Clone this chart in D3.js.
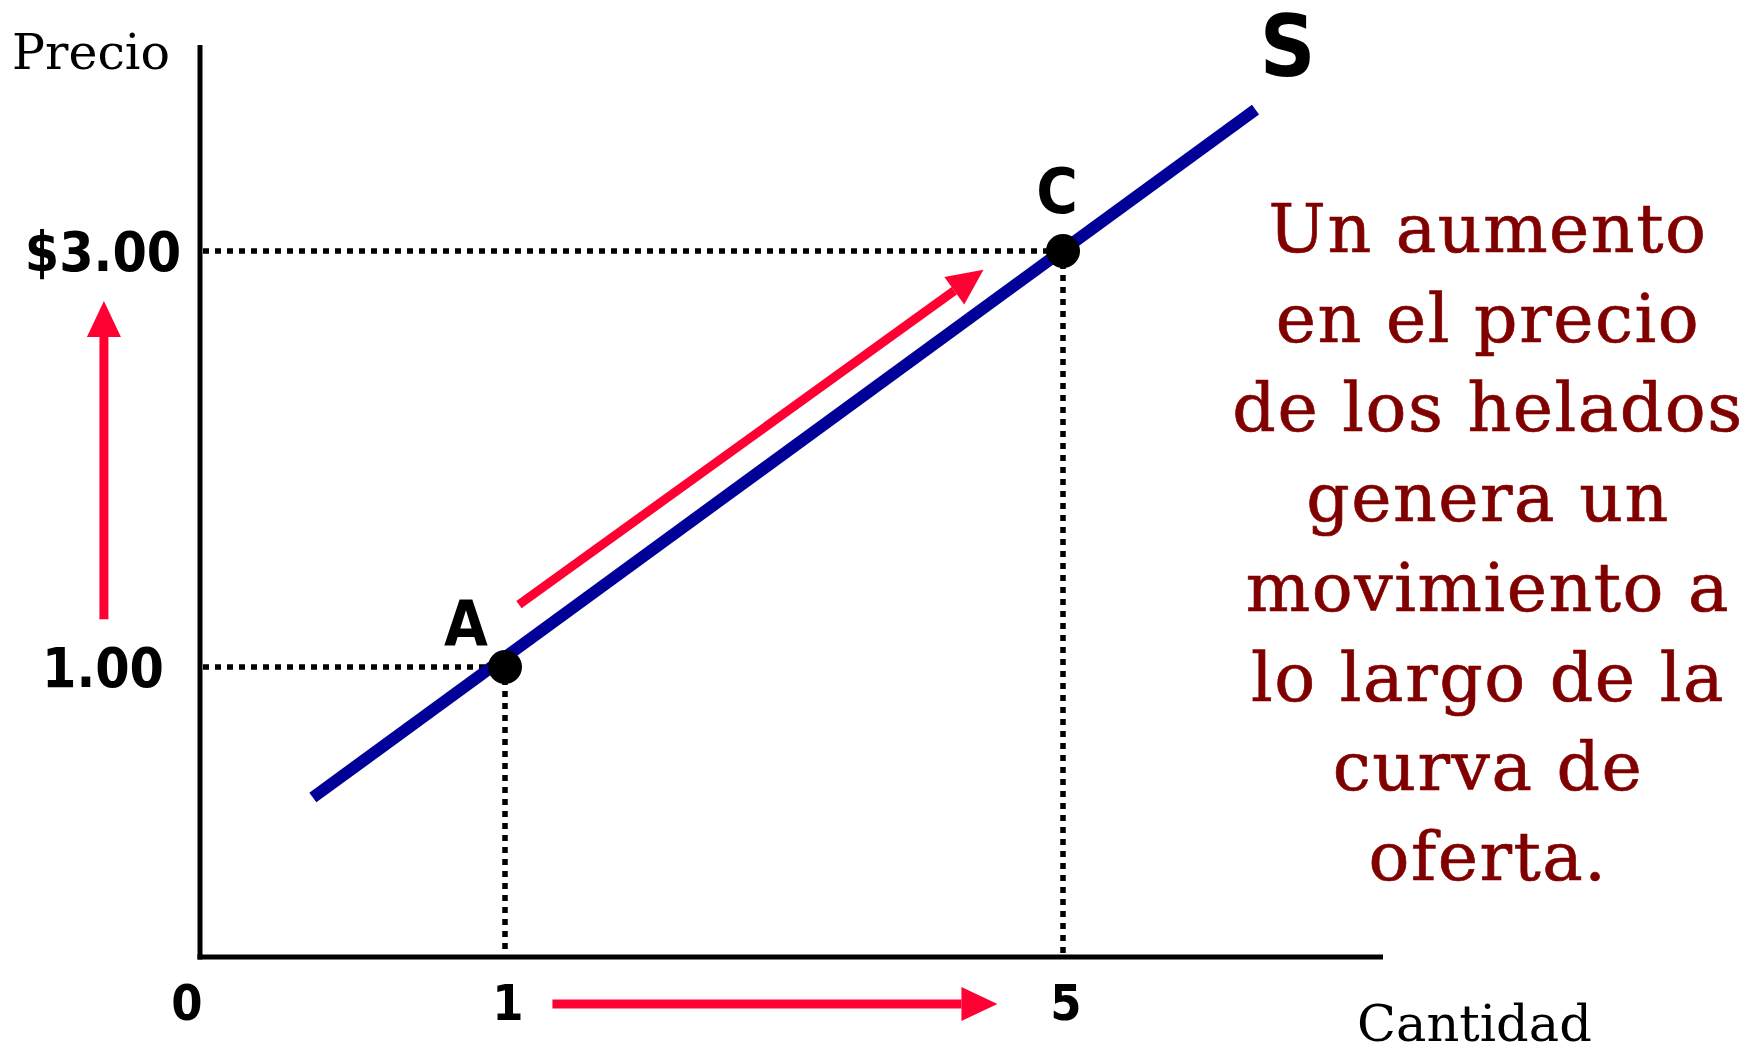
<!DOCTYPE html>
<html>
<head>
  <meta charset="utf-8">
  <style>
  body { margin: 0; background: #fff; }
  #chart svg { display: block; }
  .bold { font-family: "DejaVu Sans", sans-serif; font-weight: bold; font-stretch: condensed; }
  .serif { font-family: "DejaVu Serif", serif; }
  </style>
</head>
<body>
  <script src="https://d3js.org/d3.v7.min.js"></script>
  <div id="chart"></div>
  <script>
    // datos del grafico
    const qtyTicks = [0, 1, 5];
    const priceTicks = [1, 3];
    const priceLabels = ['1.00', '$3.00'];
    const points = [
      {name: 'A', q: 1, p: 1},
      {name: 'C', q: 5, p: 3}
    ];
    const supply = [{q: 0.37, p: 0.55}, {q: 6.38, p: 3.68}];
    // flechas rojas: precio sube, cantidad sube, movimiento a lo largo de S
    const arrows = [
      {from: {q: -0.315, p: 1.23}, to: {q: -0.315, p: 2.76}},
      {from: {q: 1.34, p: -0.162}, to: {q: 4.53, p: -0.162}},
      {from: {q: 1.10, p: 1.30}, to: {q: 4.43, p: 2.91}}
    ];
    const noteLines = [
      'Un aumento',
      'en el precio',
      'de los helados',
      'genera un',
      'movimiento a',
      'lo largo de la',
      'curva de',
      'oferta.'
    ];

    const width = 1759, height = 1048;
    const svg = d3.select('#chart').append('svg')
      .attr('width', width)
      .attr('height', height);

    // escalas por tramos (el diagrama no es proporcional)
    const x = d3.scaleLinear().domain([0, 1, 5]).range([200, 505, 1063]);
    const y = d3.scaleLinear().domain([0, 1, 3]).range([957, 667, 251]);
    const x0 = x(0), y0 = y(0);

    // lineas punteadas de referencia
    const guides = svg.append('g');
    points.forEach(d => {
      guides.append('line')
        .attr('x1', x0 + 3).attr('x2', x(d.q))
        .attr('y1', y(d.p)).attr('y2', y(d.p));
      guides.append('line')
        .attr('x1', x(d.q)).attr('x2', x(d.q))
        .attr('y1', y(d.p)).attr('y2', y0 - 3);
    });
    guides.selectAll('line')
      .style('stroke', '#000')
      .style('stroke-width', 5.5)
      .style('stroke-dasharray', '6,6');

    // ejes
    svg.append('line')
      .attr('x1', x0).attr('x2', x0).attr('y1', 45).attr('y2', y0 + 2.5)
      .style('stroke', '#000').style('stroke-width', 5);
    svg.append('line')
      .attr('x1', x0 - 2.5).attr('x2', 1383).attr('y1', y0).attr('y2', y0)
      .style('stroke', '#000').style('stroke-width', 5);

    // curva de oferta
    svg.append('path')
      .datum(supply)
      .attr('d', d3.line().x(d => x(d.q)).y(d => y(d.p)))
      .style('fill', 'none')
      .style('stroke', '#000099')
      .style('stroke-width', 12);

    // flechas
    const red = '#ff0033';
    arrows.forEach(a => {
      const x1 = x(a.from.q), y1 = y(a.from.p), x2 = x(a.to.q), y2 = y(a.to.p);
      const ang = Math.atan2(y2 - y1, x2 - x1);
      const headL = 36, headW = 17;
      const bx = x2 - headL * Math.cos(ang), by = y2 - headL * Math.sin(ang);
      svg.append('line')
        .attr('x1', x1).attr('y1', y1).attr('x2', bx).attr('y2', by)
        .style('stroke', red).style('stroke-width', 9);
      const px = -Math.sin(ang), py = Math.cos(ang);
      svg.append('path')
        .attr('d', `M${x2},${y2}L${bx + px * headW},${by + py * headW}L${bx - px * headW},${by - py * headW}Z`)
        .style('fill', red);
    });

    // puntos
    svg.selectAll('circle.pt')
      .data(points)
      .enter().append('circle')
      .attr('class', 'pt')
      .attr('cx', d => x(d.q))
      .attr('cy', d => y(d.p))
      .attr('r', 17)
      .style('fill', '#000');

    svg.selectAll('text.ptlabel')
      .data(points)
      .enter().append('text')
      .attr('class', 'ptlabel bold')
      .attr('x', d => x(d.q) - (d.name === 'A' ? 39 : 6))
      .attr('y', d => y(d.p) - (d.name === 'A' ? 22 : 38))
      .attr('text-anchor', 'middle')
      .style('font-size', '63px')
      .text(d => d.name);

    // etiqueta S
    const sEnd = supply[supply.length - 1];
    svg.append('text')
      .attr('class', 'bold')
      .attr('x', x(sEnd.q) + 32)
      .attr('y', y(sEnd.p) - 34)
      .attr('text-anchor', 'middle')
      .style('font-size', '86px')
      .text('S');

    // marcas del eje x
    svg.selectAll('text.qtick')
      .data(qtyTicks)
      .enter().append('text')
      .attr('class', 'qtick bold')
      .attr('x', d => x(d) + (d === 0 ? -13 : 3))
      .attr('y', y0 + 63)
      .attr('text-anchor', 'middle')
      .style('font-size', '50px')
      .text(d => d);

    // marcas del eje y
    svg.selectAll('text.ptick')
      .data(priceTicks)
      .enter().append('text')
      .attr('class', 'ptick bold')
      .attr('x', 103)
      .attr('y', d => y(d))
      .attr('dy', '0.36em')
      .attr('text-anchor', 'middle')
      .style('font-size', '55px')
      .text((d, i) => priceLabels[i]);

    // titulos de ejes
    svg.append('text')
      .attr('class', 'serif')
      .attr('x', 12).attr('y', 69)
      .style('font-size', '49px')
      .text('Precio');
    svg.append('text')
      .attr('class', 'serif')
      .attr('x', 1357).attr('y', 1041)
      .style('font-size', '51px')
      .text('Cantidad');

    // texto explicativo
    svg.append('g')
      .selectAll('text')
      .data(noteLines)
      .enter().append('text')
      .attr('class', 'serif')
      .attr('x', 1488)
      .attr('y', (d, i) => 252 + i * 89.7)
      .attr('text-anchor', 'middle')
      .style('font-size', '68px')
      .style('letter-spacing', '1.5px')
      .style('fill', '#800000')
      .style('stroke', '#800000')
      .style('stroke-width', 0.7)
      .text(d => d);
  </script>
</body>
</html>
